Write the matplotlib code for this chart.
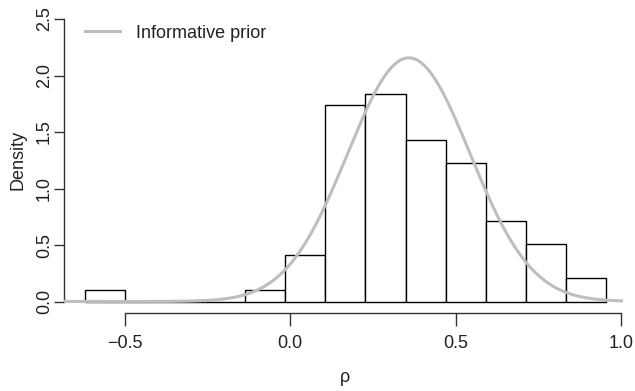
import numpy as np
import matplotlib
matplotlib.use("Agg")
import matplotlib.pyplot as plt

plt.rcParams['font.family'] = ['Liberation Sans Narrow', 'Liberation Sans', 'DejaVu Sans']

# Histogram data (bin edges and counts of rho)
bin_edges = [-0.620, -0.499, -0.378, -0.257, -0.136, -0.015, 0.106, 0.227,
             0.348, 0.469, 0.590, 0.711, 0.832, 0.953]
bin_counts = [1, 0, 0, 0, 1, 4, 17, 18, 14, 12, 7, 5, 2]

# Informative prior (normal) parameters
prior_mean = 0.358
prior_sd = 0.185

x_ticks = [-0.5, 0.0, 0.5, 1.0]
x_ticklabels = ["\u22120.5", "0.0", "0.5", "1.0"]
y_ticks = [0.0, 0.5, 1.0, 1.5, 2.0, 2.5]
y_ticklabels = ["0.0", "0.5", "1.0", "1.5", "2.0", "2.5"]

FS = 13

fig = plt.figure(figsize=(6.35, 3.91), dpi=100)
ax = fig.add_axes([64/635, 1-312.8/391, (626.8-64)/635, (312.8-7.7)/391])

edges = np.array(bin_edges)
counts = np.array(bin_counts, dtype=float)
widths = np.diff(edges)
dens = counts / (counts.sum() * widths)
ax.bar(edges[:-1], dens, width=widths, align='edge', facecolor='white',
       edgecolor='black', linewidth=1.0, zorder=2)

xs = np.linspace(-1, 1, 801)
ys = np.exp(-0.5 * ((xs - prior_mean) / prior_sd) ** 2) / (prior_sd * np.sqrt(2 * np.pi))
ax.plot(xs, ys, color='#BEBEBE', linewidth=2.2, zorder=3, label='Informative prior')

ax.set_xlim(-0.683, 1.016)
ax.set_ylim(-0.1, 2.6)

for s in ['top', 'right']:
    ax.spines[s].set_visible(False)
ax.spines['left'].set_bounds(0, 2.5)
ax.spines['bottom'].set_bounds(-0.5, 1.0)
for s in ['left', 'bottom']:
    ax.spines[s].set_color('#333333')
    ax.spines[s].set_linewidth(1.0)

ax.set_xticks(x_ticks)
ax.set_xticklabels(x_ticklabels)
ax.set_yticks(y_ticks)
ax.set_yticklabels(y_ticklabels, rotation=90, va='center')
ax.tick_params(axis='x', length=9.4, width=1.0, color='#333333', labelsize=FS, pad=6.5,
               labelcolor='#222222')
ax.tick_params(axis='y', length=7.2, width=1.0, color='#333333', labelsize=FS, pad=0.8,
               labelcolor='#222222')

ax.set_xlabel("\u03c1", fontsize=FS, color='#222222')
ax.xaxis.set_label_coords(0.5, -0.183)
ax.set_ylabel("Density", fontsize=FS, color='#222222')
ax.yaxis.set_label_coords(-0.067, 0.5)

leg = ax.legend(loc='center left', bbox_to_anchor=(85/635, 1-33/391),
                bbox_transform=fig.transFigure, frameon=False,
                fontsize=FS, handlelength=1.95, handletextpad=0.85,
                borderaxespad=0, borderpad=0)
for t in leg.get_texts():
    t.set_color('#222222')

fig.savefig("out.png", dpi=100)
